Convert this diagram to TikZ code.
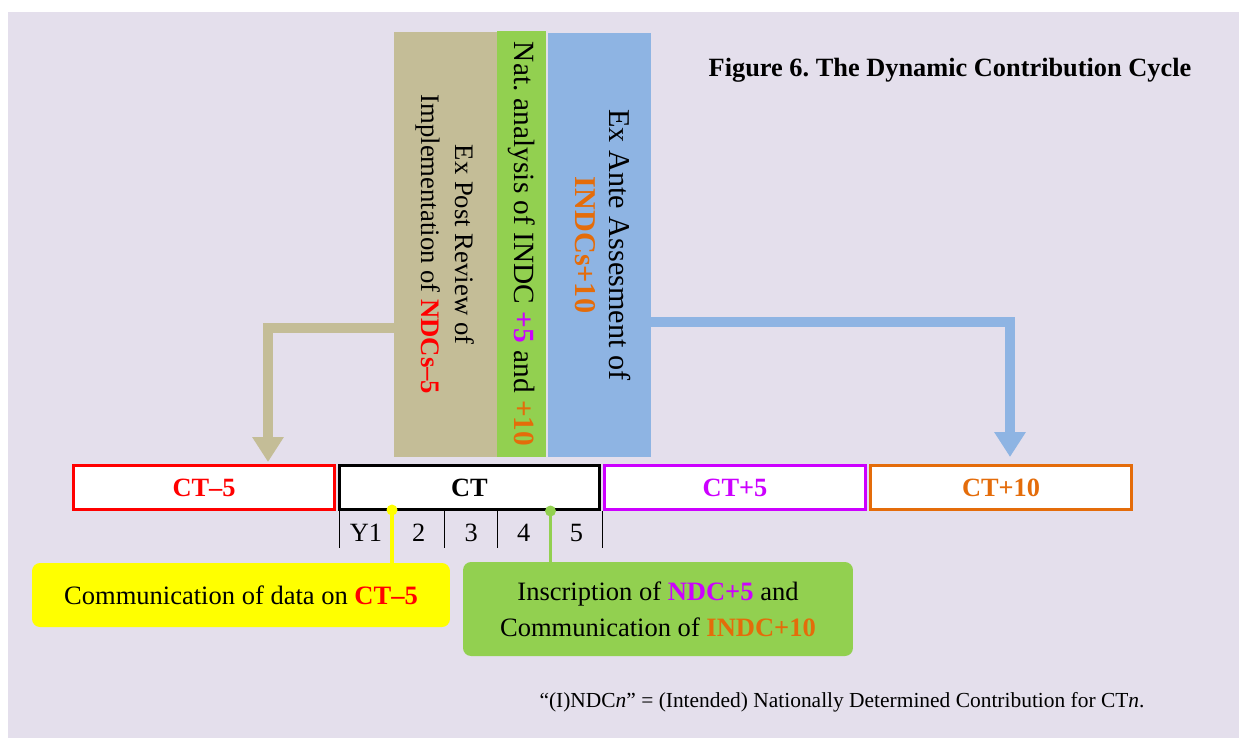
\documentclass[tikz,border=0pt]{standalone}
\usepackage{fontspec}
\setmainfont{Liberation Serif}
\usepackage{xcolor}
\usepackage{tikz}
\usetikzlibrary{arrows.meta}

\definecolor{bgcol}{HTML}{E4DFEC}
\definecolor{tancol}{HTML}{C4BD97}
\definecolor{grncol}{HTML}{92D050}
\definecolor{blucol}{HTML}{8EB4E3}
\definecolor{magcol}{HTML}{CC00FF}
\definecolor{orgcol}{HTML}{E46C0A}
\definecolor{yelcol}{HTML}{FFFF00}

\tikzset{
  period/.style={draw=#1, text=#1, line width=1.7pt, fill=white, minimum width=5.22cm, minimum height=0.88cm, inner sep=0pt, font=\fontsize{15}{18}\selectfont\bfseries},
  phase/.style={minimum height=8.5cm, inner sep=0pt, align=center},
  flow/.style={line width=0.2cm, -{Triangle[width=0.6cm,length=0.5cm]}},
  event/.style={rounded corners=0.16cm, inner sep=0pt, align=center, font=\fontsize{15.1}{20.4}\selectfont},
  pin/.style={line width=1.9pt}
}

\begin{document}
\frenchspacing
\begin{tikzpicture}[x=0.02cm,y=-0.02cm]

\useasboundingbox (0,0) rectangle (1239,738);
\fill[bgcol] (8,12) rectangle (1239,738);

% phases above the current term
\node[phase, fill=tancol, minimum width=2.06cm, font=\fontsize{15.2}{19.3}\selectfont] (post) at (445.5,244.5)
  {\rotatebox{-90}{\begin{tabular}{@{}c@{}}Ex Post Review of\\Implementation of \textbf{\color{red}NDCs--5}\end{tabular}}};
\node[phase, fill=grncol, minimum width=0.98cm, minimum height=8.52cm, font=\fontsize{16.7}{19.3}\selectfont] (nat) at (521.5,244)
  {\rotatebox{-90}{Nat. analysis of INDC \textbf{\color{magcol}+5} and \textbf{\color{orgcol}+10}}};
\node[phase, fill=blucol, minimum width=2.06cm, minimum height=8.48cm, font=\fontsize{17.2}{19.3}\selectfont] (ante) at (599.5,245)
  {\rotatebox{-90}{\begin{tabular}{@{}c@{}}Ex Ante Assesment of\\\textbf{\color{orgcol}INDCs+10}\end{tabular}}};

\node[font=\fontsize{15}{18}\selectfont\bfseries] (title) at (950,70) {Figure 6. The Dynamic Contribution Cycle};

% commitment terms
\node[period=red] (ctm5) at (204,487.5) {CT--5};
\node[period=black] (ct) at (469.5,487.5) {CT};
\node[period=magcol] (ctp5) at (735,487.5) {CT+5};
\node[period=orgcol] (ctp10) at (1001,487.5) {CT+10};

% years of the term
\foreach \i in {0,...,5}
  \draw[line width=0.6pt] (339.7+\i*52.6,511) -- ++(0,37);
\foreach \i/\yr in {0/Y1,1/2,2/3,3/4,4/5}
  \node[font=\fontsize{15}{18}\selectfont] (yr\i) at (366+\i*52.6,533) {\yr};

% arrows from the phases
\coordinate (pastbend) at (268,328);
\coordinate (pastend) at (268,462);
\draw[flow, tancol] (post.west |- pastbend) -| (pastend);
\coordinate (nextbend) at (1010,322);
\coordinate (nextend) at (1010,457);
\draw[flow, blucol] (ante.east |- nextbend) -| (nextend);

% events
\node[event, fill=yelcol, minimum width=8.36cm, minimum height=1.28cm] (comm) at (241,595)
  {Communication of data on \textbf{\color{red}CT--5}};
\node[event, fill=grncol, minimum width=7.8cm, minimum height=1.88cm] (insc) at (658,609)
  {Inscription of \textbf{\color{magcol}NDC+5} and\\Communication of \textbf{\color{orgcol}INDC+10}};

\coordinate (y1mark) at (392,510);
\draw[pin, yelcol] (y1mark) -- (y1mark |- comm.north);
\fill[yelcol] (y1mark) circle (5.5);
\coordinate (y4mark) at (550.5,511);
\draw[pin, grncol] (y4mark) -- (y4mark |- insc.north);
\fill[grncol] (y4mark) circle (5.5);

\node[font=\fontsize{12.2}{14}\selectfont] (note) at (842,702)
  {``(I)NDC\textit{n}'' = (Intended) Nationally Determined Contribution for CT\textit{n}.};

\end{tikzpicture}
\end{document}
